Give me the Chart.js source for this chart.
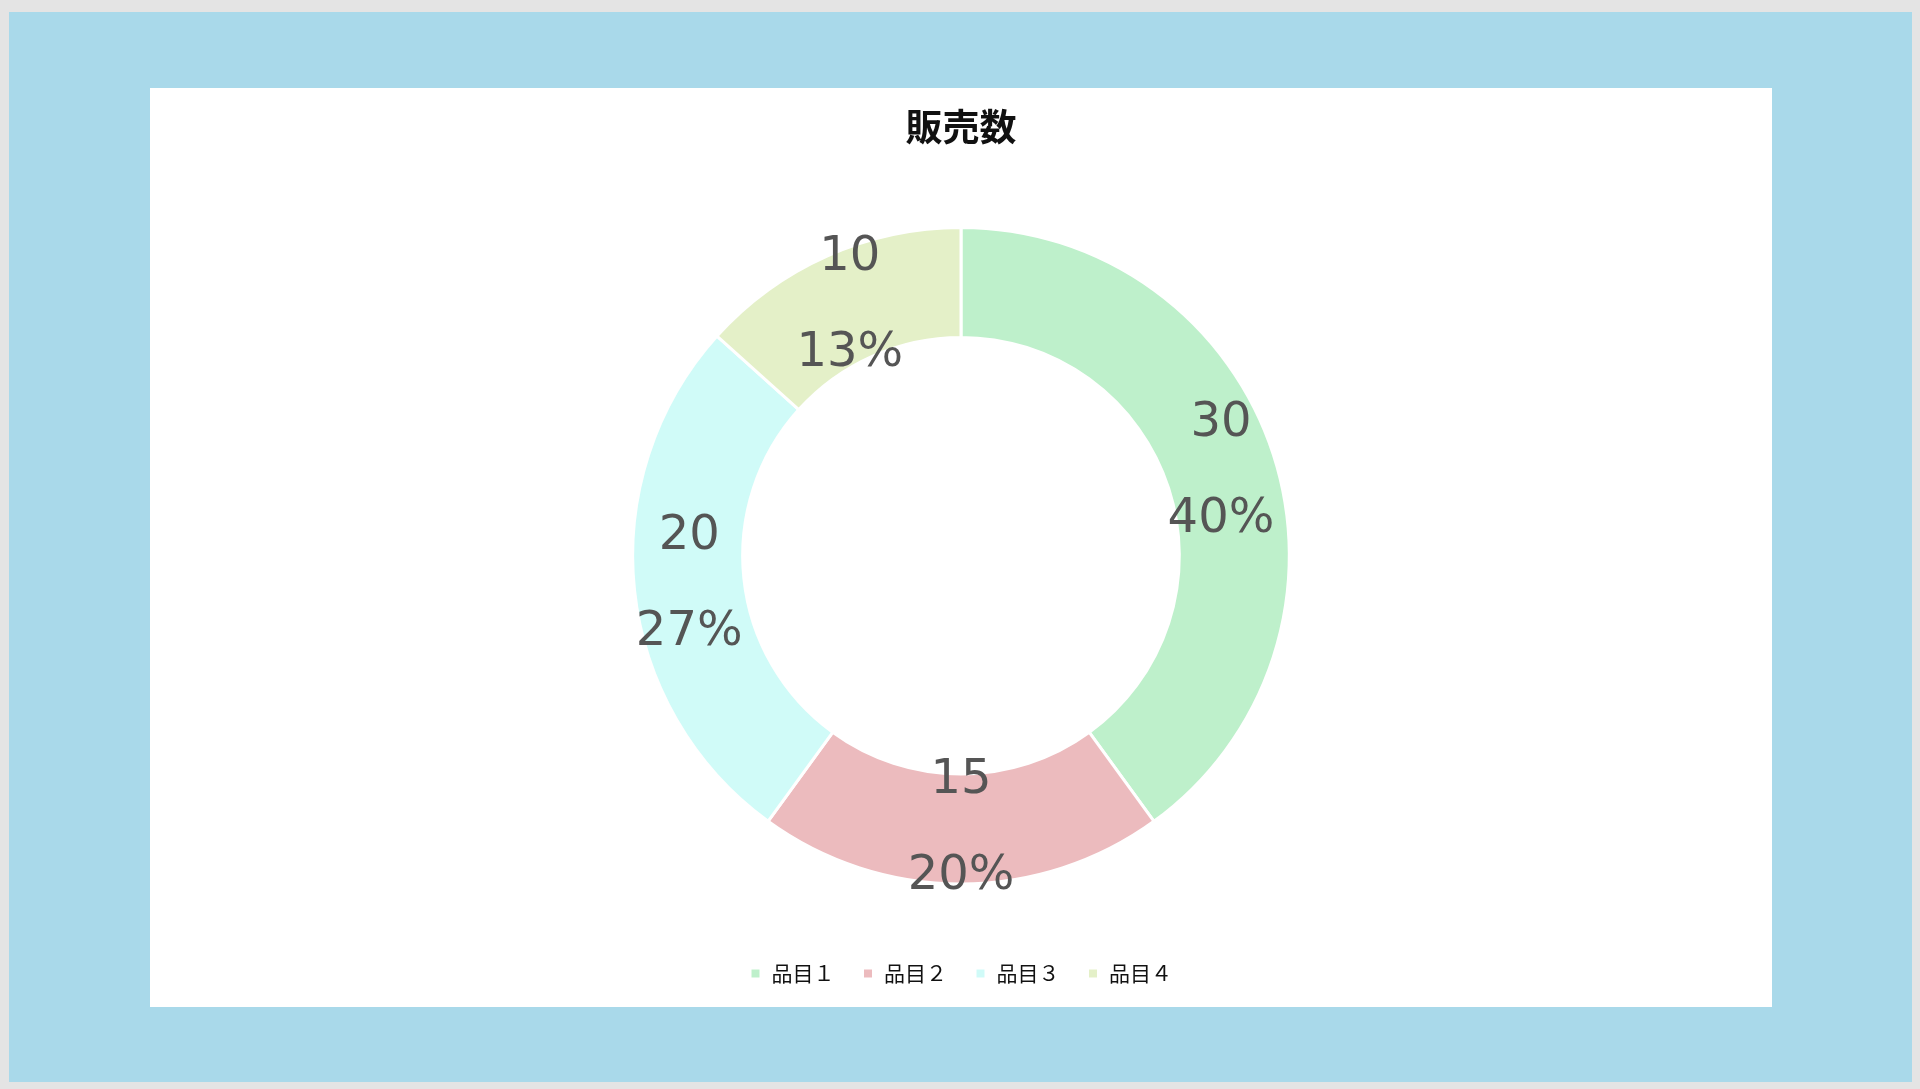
<!DOCTYPE html>
<html lang="ja">
<head>
<meta charset="utf-8">
<title>販売数</title>
<script src="https://cdn.jsdelivr.net/npm/chart.js@4.4.1/dist/chart.umd.min.js"></script>
<style>
  html, body { margin: 0; padding: 0; }
  body { width: 1920px; height: 1089px; background: #e4e4e4; position: relative; overflow: hidden; }
  #frame { position: absolute; left: 9px; top: 12px; width: 1903px; height: 1070px; background: #a9d9ea; }
  #card { position: absolute; left: 150px; top: 88px; width: 1622px; height: 919px; background: #fff; }
</style>
</head>
<body>
<div id="frame"></div>
<div id="card"><canvas id="myChart"></canvas></div>
<script>
// data
var labels = ["品目１", "品目２", "品目３", "品目４"];
var sales = [30, 15, 20, 10];
var colors = ["#bef0cb", "#ecbbbe", "#d0fbf8", "#e4f0c8"];

// draws "value" and "percent" on each slice
var sliceLabels = {
    id: 'sliceLabels',
    afterDatasetsDraw: function(chart) {
        var ctx = chart.ctx;
        var data = chart.data.datasets[0].data;
        var total = data.reduce(function(a, b) { return a + b; }, 0);
        var meta = chart.getDatasetMeta(0);
        ctx.save();
        ctx.font = '48px "DejaVu Sans", Verdana, sans-serif';
        ctx.fillStyle = '#555555';
        ctx.textAlign = 'center';
        ctx.textBaseline = 'middle';
        meta.data.forEach(function(arc, i) {
            var p = arc.tooltipPosition();
            ctx.fillText(String(data[i]), p.x, p.y - 48);
            ctx.fillText(Math.round(data[i] / total * 100) + '%', p.x, p.y + 48);
        });
        ctx.restore();
    }
};

var ctx = document.getElementById('myChart').getContext('2d');
var chart = new Chart(ctx, {
    type: 'doughnut',
    data: {
        labels: labels,
        datasets: [{
            label: "販売数",
            data: sales,
            backgroundColor: colors,
            borderColor: '#ffffff',
            borderWidth: 3,
            hoverOffset: 0
        }]
    },
    options: {
        responsive: true,
        maintainAspectRatio: false,
        animation: false,
        cutout: '66.5%',
        radius: '86.9%',
        layout: { padding: { top: 8, bottom: 13 } },
        plugins: {
            title: {
                display: true,
                text: '販売数',
                color: '#111',
                font: { family: '"Noto Sans CJK JP", sans-serif', size: 37, weight: 'bold' },
                padding: { top: 9, bottom: 27 }
            },
            legend: {
                position: 'bottom',
                labels: {
                    color: '#111',
                    boxWidth: 11,
                    boxHeight: 11,
                    padding: 28,
                    font: { family: '"Noto Sans CJK JP", sans-serif', size: 21 }
                }
            },
            tooltip: { enabled: false }
        }
    },
    plugins: [sliceLabels]
});
</script>
</body>
</html>
